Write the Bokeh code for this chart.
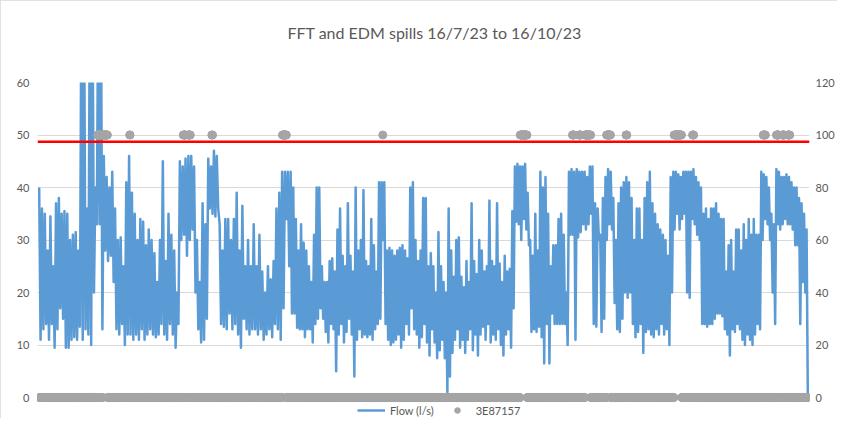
import numpy as np
from bokeh.plotting import figure
from bokeh.models import Range1d, LinearAxis, Span, Legend, LegendItem, FixedTicker
from bokeh.embed import file_html
from bokeh.resources import INLINE

TITLE = "FFT and EDM spills 16/7/23 to 16/10/23"
FLOW_LABEL = "Flow (l/s)"
EDM_LABEL = "3E87157"
THRESHOLD = 48.7            # l/s, red line
left_ticks = [0, 10, 20, 30, 40, 50, 60]
right_ticks = [0, 20, 40, 60, 80, 100, 120]

# segment boundaries, days since 16/7/23 (92 days to 16/10/23)
seg_days = [0.0, 14.8, 30.1, 45.35, 60.6, 75.9, 92.0]

# flow readings (l/s), alternating local high / local low
flow_a = [40, 11, 36, 13, 35, 14, 28, 11, 34.5, 14, 25, 9.5, 37, 13, 38, 17, 35, 15, 35.5, 9.5,
          35, 9.5, 30, 11, 31, 11.5, 31.5, 11, 28, 13.5, 75, 11, 75, 13, 36, 12, 75, 10, 75, 20,
          40, 33, 75, 33, 75, 13, 46, 28, 42, 26, 40, 27, 43, 22, 36, 13, 30, 12, 30.5, 14,
          25, 10, 41, 12, 46, 12, 39, 11, 35, 12, 30, 11, 34, 13, 33.5, 11, 29, 12, 32, 13,
          30, 12, 27.5, 11.5, 22, 12, 30, 14]
flow_b = [45, 12, 26, 11, 35, 14, 31, 12, 28, 9.5, 20, 14, 45, 30, 44, 31, 45.5, 27, 46, 30,
          46, 32, 44, 20, 30, 13, 22, 10.5, 37, 11, 33, 15, 45.5, 36, 44, 35, 47, 34.5, 46, 36,
          33, 14, 28, 13.5, 34, 13, 34, 16, 30, 13, 34, 14, 39, 12, 28, 9.5, 36.5, 15, 25, 13,
          30, 12, 25, 13, 33, 13, 25, 12, 31, 13, 24, 11, 20, 12, 25, 13, 22.5, 11.5, 26, 14,
          36, 13, 39, 11, 43, 17, 43, 34, 43, 25]
flow_c = [43, 16, 40, 16, 34, 13.3, 28, 13, 33, 13, 29.5, 11.5, 28, 13, 25, 13, 22, 10.5, 31, 14,
          40, 15, 40, 17, 25, 15, 22, 12.5, 22, 10.5, 26, 14, 26.5, 13, 24, 5, 32, 12, 36, 14,
          27, 10.5, 25, 12.5, 37, 15, 27, 12, 24, 4, 40, 11, 28, 13, 30, 11.5, 39.5, 12, 26, 11.5,
          25, 12, 34, 11, 29, 13, 24, 14, 41, 15, 41, 30, 41, 14, 28, 11, 28.5, 10, 28, 10.5,
          27, 11, 28, 12, 28.5, 9.5, 29, 11, 28, 14, 26.5, 12, 40, 17, 41, 13, 30, 12]
flow_d = [26, 9.5, 28, 11.5, 38, 14, 38, 10.5, 25, 8, 27.5, 13, 25, 10.5, 20, 7.5, 31.5, 9, 25, 11,
          22, 7.5, 20, 1, 36, 4, 28, 8.5, 23, 11, 30, 13, 30.5, 9.5, 23, 11, 21, 8.5, 26, 11,
          22, 13, 37, 9, 26, 12, 23.5, 8, 30, 12, 28, 13.5, 24, 11, 25, 14, 37.5, 10.5, 26, 12,
          25, 11, 37, 13, 25.5, 10, 22, 8, 27, 12, 24, 13, 24.5, 9.5, 35.5, 17, 44, 33.5, 44.5, 33,
          44, 30, 44, 34, 44.5, 32, 39, 29, 30, 12.5, 27, 13, 35, 12.5, 28, 13.5, 43, 11.5, 40, 6.5]
flow_e = [42, 14, 35, 6.5, 25, 16, 29, 14, 29, 14, 34, 14, 35, 14, 31, 14, 20, 10, 43, 31,
          43.5, 31, 43, 11, 43.5, 30.5, 43, 31.5, 43, 33, 43, 32, 42, 33, 44, 35, 44, 14, 37, 13.5,
          36, 30, 31, 12.5, 38, 15, 42, 30, 43.5, 33, 43, 32, 38, 18, 30, 13, 37, 12.5, 40, 15,
          41, 20, 42, 19, 41, 20, 38, 14, 30, 11.5, 36, 12.5, 36, 14, 30, 8.5, 38, 12.5, 41, 13,
          43, 12, 37, 11.5, 35, 13, 33, 12, 32, 14, 31, 12, 30, 13, 27, 10, 42, 20]
flow_f = [43, 32, 43, 35, 42.5, 32, 42, 34, 43, 35, 43, 20, 43, 19, 43, 34, 43.5, 33, 42, 31,
          41, 30, 40, 14, 35, 14, 36, 13.5, 34, 14, 36, 14, 36, 15, 37, 16, 35, 16, 34, 15.5,
          34, 13, 24, 12, 29, 8, 30, 13, 24, 12.5, 32, 14, 32, 13, 28, 11, 33, 10, 30, 12,
          34, 11, 31, 10, 34, 12, 31, 14, 31, 13, 43, 30, 42.5, 34, 42, 33, 40, 30, 35, 20,
          33, 14, 43.5, 33, 43, 32, 42, 33, 42, 34, 42.5, 33, 42, 33, 41, 32, 40, 29, 40, 29,
          38, 14, 37, 22, 35, 20, 32, 0]

# EDM 3E87157 spill periods (days since 16/7/23): value 100 while spilling, 0 otherwise
spill_start = [7.0, 7.6, 10.8, 17.25, 17.8, 20.65, 29.1, 41.1, 57.55, 63.8, 64.6, 65.3,
               67.9, 70.25, 76.0, 78.2, 86.65, 88.25, 88.95, 89.6]
spill_end = [7.4, 8.2, 10.9, 17.5, 18.1, 20.75, 29.6, 41.15, 58.4, 64.0, 64.8, 66.0,
             68.4, 70.35, 76.9, 78.35, 86.95, 88.5, 89.2, 89.85]
edm_hours = 92 * 24          # hourly EDM record

# ---- build series ----
segments = [flow_a, flow_b, flow_c, flow_d, flow_e, flow_f]
fx, fy = [], []
for i, seg in enumerate(segments):
    d0, d1 = seg_days[i], seg_days[i + 1]
    n = len(seg)
    denom = n - 1 if i == len(segments) - 1 else n
    fx.extend(d0 + (d1 - d0) * np.arange(n) / denom)
    fy.extend(seg)

et = np.arange(edm_hours + 1) / 24.0
ev = np.zeros_like(et)
for s, e in zip(spill_start, spill_end):
    ev[(et >= s) & (et <= e)] = 100

FONT = "Lato"
GREY_TXT = "#595959"

# frame runs from the 60 line down to the bottom of the canvas, so the legend can sit inside it
p = figure(width=837, height=418, output_backend="svg", toolbar_location=None, tools="",
           x_range=Range1d(-0.2, 92.2), y_range=Range1d(-4.0, 60),
           x_axis_location=None,
           min_border_left=37, min_border_right=25, min_border_top=82, min_border_bottom=0)
p.extra_y_ranges = {"edm": Range1d(-8.0, 120)}
p.outline_line_color = None
p.background_fill_color = "white"
p.border_fill_color = "white"
p.styles = {"outline": "1px solid #d9d9d9", "outline-offset": "-1px"}

p.xgrid.visible = False
p.ygrid.ticker = FixedTicker(ticks=left_ticks)
p.ygrid.grid_line_color = "#d9d9d9"
p.ygrid.grid_line_width = 1

def style_axis(ax):
    ax.axis_line_color = None
    ax.major_tick_line_color = None
    ax.minor_tick_line_color = None
    ax.major_tick_out = 0
    ax.major_tick_in = 0
    ax.minor_tick_out = 0
    ax.major_label_text_font = FONT
    ax.major_label_text_font_size = "11px"
    ax.major_label_text_color = GREY_TXT

ly = p.yaxis[0]
ly.ticker = FixedTicker(ticks=left_ticks)
style_axis(ly)
ly.major_label_standoff = 8

ry = LinearAxis(y_range_name="edm", ticker=FixedTicker(ticks=right_ticks))
style_axis(ry)
ry.major_label_standoff = 6
p.add_layout(ry, "right")

flow_r = p.line(fx, fy, line_color="#5b9bd5", line_width=2.5, line_join="round")
edm_r = p.scatter(et, ev, y_range_name="edm", size=8, marker="circle",
                  fill_color="#a5a5a5", line_color="#a5a5a5")
p.add_layout(Span(location=THRESHOLD, dimension="width", line_color="#ff0000", line_width=2.5))

# two blank lines under the title lift it well above the plot area
p.title.text = TITLE + "\n \n "
p.title.align = "left"
p.title.offset = 250
p.title.text_font = FONT
p.title.text_font_size = "16px"
p.title.text_font_style = "normal"
p.title.text_color = GREY_TXT
p.title.text_line_height = 1.05
p.title.standoff = 2

legend = Legend(items=[LegendItem(label=FLOW_LABEL, renderers=[flow_r]),
                       LegendItem(label=EDM_LABEL, renderers=[edm_r])],
                location=(320, 1), orientation="horizontal",
                border_line_color=None, background_fill_alpha=0,
                padding=0, margin=0, spacing=9,
                glyph_width=28, glyph_height=14, label_height=14, label_standoff=5,
                label_text_font=FONT, label_text_font_size="11px", label_text_color=GREY_TXT)
p.add_layout(legend)

open("out.html", "w").write(file_html(p, INLINE))
